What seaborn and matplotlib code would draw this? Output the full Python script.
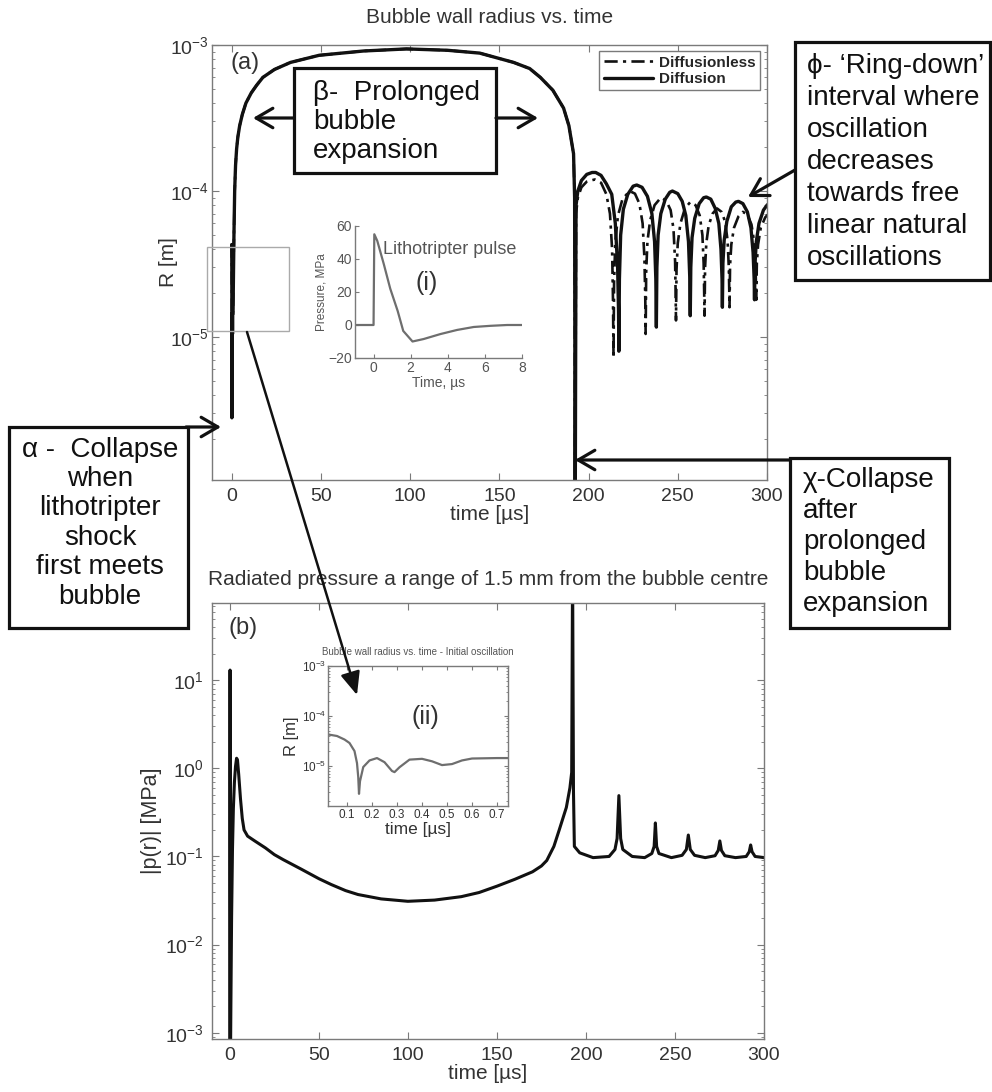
import pandas as pd
import matplotlib
matplotlib.use("Agg")
import matplotlib.pyplot as plt
import seaborn as sns
from matplotlib.patches import Rectangle, FancyArrowPatch

# -----------------------------
# CONFIG
# -----------------------------
sns.set_style("ticks")
plt.rcParams["font.family"] = ["Liberation Sans", "DejaVu Sans"]
plt.rcParams["mathtext.fontset"] = "custom"
plt.rcParams["mathtext.rm"] = "Liberation Sans"
plt.rcParams["mathtext.it"] = "Liberation Sans:italic"
plt.rcParams["mathtext.bf"] = "Liberation Sans:bold"

W, H = 992, 1092
INK = "#111111"
GREY = "#7a7a7a"
TXT = "#333333"

# -----------------------------
# DATA (t in microseconds)
# -----------------------------
# initial oscillation of the bubble wall (inset ii, also the start of panel a)
t_init = [0.024, 0.06, 0.09, 0.11, 0.13, 0.14, 0.145, 0.148, 0.152, 0.165, 0.19,
          0.22, 0.25, 0.28, 0.29, 0.31, 0.35, 0.40, 0.44, 0.48, 0.52, 0.56, 0.60,
          0.70, 0.744]
R_init = [4.3e-5, 4.0e-5, 3.4e-5, 2.9e-5, 2.0e-5, 1.15e-5, 6e-6, 2.8e-6, 5e-6,
          9.6e-6, 1.3e-5, 1.45e-5, 1.2e-5, 8e-6, 7.6e-6, 9.5e-6, 1.35e-5, 1.4e-5,
          1.25e-5, 1.05e-5, 1.1e-5, 1.3e-5, 1.42e-5, 1.45e-5, 1.45e-5]

# prolonged expansion and collapse (same for both models)
t_grow = [0.8, 1.0, 1.3, 1.7, 2.2, 2.8, 3.5, 4.5, 6, 8, 11, 14, 17.5, 24, 33, 49,
          74, 98, 121, 139, 158, 167, 173, 180, 186, 189, 191.6, 192.2, 192.5]
R_grow = [1.5e-5, 2.5e-5, 5e-5, 1.0e-4, 1.5e-4, 1.95e-4, 2.35e-4, 2.8e-4, 3.35e-4,
          4.0e-4, 4.7e-4, 5.3e-4, 6e-4, 6.8e-4, 7.6e-4, 8.5e-4, 9.1e-4, 9.4e-4,
          9.2e-4, 8.8e-4, 7.6e-4, 6.9e-4, 6e-4, 4.9e-4, 3.7e-4, 2.8e-4, 1.8e-4,
          9e-5, 4e-7]

# ring-down, with diffusion
t_ring_diff = [193, 194, 196, 199, 202, 204, 207, 210, 213, 215, 216.3, 216.8, 217,
               217.3, 218, 219.5, 222, 225, 227, 230, 233, 235.5, 237, 237.7, 238,
               238.3, 239, 240.5, 243, 245.5, 247, 250, 252.5, 254.5, 256, 256.7, 257,
               257.3, 258, 259.5, 262, 264.5, 266, 268.5, 271, 273, 274.2, 274.8, 275,
               275.3, 276, 277.5, 280, 282.5, 284, 286.5, 289, 291, 292.2, 292.8, 293,
               293.3, 294, 295.5, 298, 300, 301]
R_ring_diff = [8e-5, 1.0e-4, 1.18e-4, 1.3e-4, 1.34e-4, 1.34e-4, 1.28e-4, 1.12e-4, 9.5e-5,
               6e-5, 3e-5, 1.5e-5, 8e-6,
               2.5e-5, 5e-5, 7.5e-5, 9.5e-5, 1.08e-4, 1.1e-4, 1.06e-4, 9.2e-5, 7e-5,
               4.5e-5, 2.5e-5, 1.17e-5,
               3e-5, 5e-5, 7e-5, 8.8e-5, 9.8e-5, 1.0e-4, 9.6e-5, 8.5e-5, 6.8e-5, 4.5e-5,
               2.6e-5, 1.4e-5,
               3e-5, 4.8e-5, 6.5e-5, 8.2e-5, 9e-5, 9.1e-5, 8.8e-5, 7.6e-5, 6e-5, 4e-5,
               2.5e-5, 1.6e-5,
               3.2e-5, 4.6e-5, 6.2e-5, 7.8e-5, 8.4e-5, 8.5e-5, 8.2e-5, 7.2e-5, 5.6e-5,
               3.8e-5, 2.5e-5, 1.8e-5,
               3.2e-5, 4.5e-5, 6e-5, 7.4e-5, 8e-5, 8.2e-5]

# ring-down, diffusionless
t_ring_nodiff = [193, 194, 196, 199, 203.5, 207, 210, 212, 213.2, 213.7, 214,
                 214.3, 215, 216.5, 219, 223, 226, 228.5, 230.3, 231.3, 231.8, 232,
                 232.3, 233, 234.5, 237, 240.5, 243.5, 246, 247.6, 248.5, 248.8, 249,
                 249.3, 250, 251.5, 254, 257, 260, 262.3, 263.8, 264.5, 264.8, 265,
                 265.3, 266, 267.3, 269.5, 272, 274.5, 276.5, 277.9, 278.6, 278.85, 279,
                 279.3, 280, 281.5, 284, 286.5, 289, 291.3, 292.9, 293.6, 293.85, 294,
                 294.3, 295, 296.5, 299, 301]
R_ring_nodiff = [7e-5, 9e-5, 1.06e-4, 1.16e-4, 1.2e-4, 1.14e-4, 9.5e-5, 7e-5, 4e-5, 1.8e-5, 7.2e-6,
                 2.4e-5, 4.5e-5, 6.8e-5, 8.8e-5, 1.0e-4, 9.6e-5, 8.2e-5, 6e-5, 3.5e-5, 1.8e-5, 1.05e-5,
                 2.8e-5, 4.5e-5, 6.3e-5, 8e-5, 9e-5, 8.6e-5, 7.4e-5, 5.5e-5, 3.3e-5, 2e-5, 1.3e-5,
                 2.9e-5, 4.4e-5, 6e-5, 7.6e-5, 8.4e-5, 8e-5, 6.8e-5, 5e-5, 3.2e-5, 2e-5, 1.4e-5,
                 3e-5, 4.4e-5, 5.8e-5, 7e-5, 7.6e-5, 7.2e-5, 6.2e-5, 4.6e-5, 3e-5, 2.1e-5, 1.6e-5,
                 3.1e-5, 4.3e-5, 5.6e-5, 6.7e-5, 7.2e-5, 6.9e-5, 5.9e-5, 4.4e-5, 2.9e-5, 2.2e-5, 1.8e-5,
                 3.2e-5, 4.3e-5, 5.6e-5, 6.6e-5, 7e-5]

# radiated pressure at 1.5 mm, MPa
t_press = [0, 0.1, 0.148, 0.2, 0.35, 0.6, 1.0, 1.5, 2.0, 2.6, 3.2, 3.8, 4.3, 5.0,
           6.0, 7.0, 8.0, 10, 14, 20, 25, 30, 40, 50, 57, 65, 72, 85, 100, 115, 130,
           140, 150, 160, 170, 175, 178, 182, 185, 189, 191, 192, 192.5,
           193, 193.5, 196.5, 204, 213, 216.3, 217.5, 218.5, 219.5, 220.7, 226, 233,
           237, 238.3, 239, 239.7, 241, 248, 254, 256.4, 257.5, 258.6, 261, 267,
           272.5, 274.3, 275.2, 276.1, 278, 284, 290, 291.7, 292.5, 293.3, 295, 300]
p_press = [3e-4, 0.02, 13, 0.05, 4e-4, 2e-3, 0.02, 0.12, 0.35, 0.7, 1.05, 1.3, 1.25, 0.85,
           0.45, 0.27, 0.2, 0.17, 0.15, 0.125, 0.105, 0.092, 0.072, 0.056, 0.048, 0.041,
           0.037, 0.033, 0.031, 0.032, 0.035, 0.039, 0.046, 0.055, 0.067, 0.078, 0.09,
           0.13, 0.2, 0.36, 0.6, 0.9, 200,
           0.55, 0.13, 0.11, 0.097, 0.1, 0.12, 0.16, 0.49, 0.16, 0.12, 0.1, 0.097,
           0.108, 0.13, 0.24, 0.13, 0.108, 0.097, 0.103, 0.12, 0.175, 0.12, 0.103, 0.097,
           0.102, 0.117, 0.15, 0.117, 0.102, 0.097, 0.1, 0.113, 0.135, 0.113, 0.1, 0.097]

# lithotripter pulse (inset i), MPa
t_pulse = [-1, 0, 0.04, 0.2, 0.55, 0.9, 1.3, 1.6, 2.1, 2.7, 3.6, 4.5, 5.4, 6.3, 7.2, 8]
P_pulse = [0, 0, 55, 51, 37, 22, 8.5, -3.6, -10, -8.5, -5.5, -3, -1.2, -0.5, 0, 0]

time_ticks = [0, 50, 100, 150, 200, 250, 300]
pulse_xticks = [0, 2, 4, 6, 8]
pulse_yticks = [-20, 0, 20, 40, 60]
init_xticks = [0.1, 0.2, 0.3, 0.4, 0.5, 0.6, 0.7]


# -----------------------------
# HELPERS (pixel positions measured from the top-left corner)
# -----------------------------
def px_rect(x0, y0, x1, y1):
    return [x0 / W, 1 - y1 / H, (x1 - x0) / W, (y1 - y0) / H]


def px(x, y):
    return (x / W, 1 - y / H)


def style_axes(ax, size=14, pad=5, all_sides=True):
    for s in ax.spines.values():
        s.set_color(GREY)
        s.set_linewidth(1.0)
    ax.tick_params(which="both", direction="in", top=all_sides, right=all_sides,
                   color=GREY, labelcolor=TXT)
    ax.tick_params(which="major", length=5, labelsize=size, pad=pad)
    ax.tick_params(which="minor", length=2.5)


def box(fig, x0, y0, x1, y1, lw=2.3, ec=INK):
    fig.add_artist(Rectangle(px(x0, y1), (x1 - x0) / W, (y1 - y0) / H,
                             transform=fig.transFigure, facecolor="white",
                             edgecolor=ec, linewidth=lw, zorder=4))


def arrow(fig, xa, ya, xb, yb, style="->,head_length=0.6,head_width=0.35", lw=2.3):
    fig.add_artist(FancyArrowPatch(px(xa, ya), px(xb, yb), transform=fig.transFigure,
                                   arrowstyle=style, mutation_scale=20, color=INK,
                                   linewidth=lw, shrinkA=0, shrinkB=0, zorder=5))


# -----------------------------
# FIGURE
# -----------------------------
fig = plt.figure(figsize=(9.92, 10.92), dpi=100)
ax_a = fig.add_axes(px_rect(212, 45, 767, 480))
ax_b = fig.add_axes(px_rect(212, 603, 764, 1039))
ax_i = fig.add_axes(px_rect(355, 226, 522, 358))
ax_ii = fig.add_axes(px_rect(328, 666, 508, 806))

# (a) bubble radius
nodiff_df = pd.DataFrame({"t": t_init + t_grow + t_ring_nodiff,
                          "R": R_init + R_grow + R_ring_nodiff})
diff_df = pd.DataFrame({"t": t_init + t_grow + t_ring_diff,
                        "R": R_init + R_grow + R_ring_diff})
sns.lineplot(data=nodiff_df, x="t", y="R", ax=ax_a, color=INK, lw=1.9,
             linestyle=(0, (5, 2, 1.2, 2)), estimator=None, sort=False,
             label="Diffusionless")
sns.lineplot(data=diff_df, x="t", y="R", ax=ax_a, color=INK, lw=2.4,
             estimator=None, sort=False, label="Diffusion")
ax_a.set_yscale("log")
ax_a.set_ylim(1.05e-6, 1e-3)
ax_a.set_xlim(-11, 300)
ax_a.set_xticks(time_ticks)
style_axes(ax_a, size=14, pad=6)
ax_a.tick_params(axis="y", pad=2)
ax_a.set_xlabel("time [µs]", fontsize=15, color=TXT, labelpad=0)
ax_a.set_ylabel("R [m]", fontsize=15, color=TXT)
ax_a.yaxis.set_label_coords(-0.062, 0.5)
ax_a.set_title("Bubble wall radius vs. time", fontsize=15, color=TXT, pad=16)
leg = ax_a.legend(loc="upper right", bbox_to_anchor=(0.9874, 0.9862), borderaxespad=0,
                  prop={"size": 11, "weight": "bold"}, handlelength=3.2,
                  handletextpad=0.4, borderpad=0.3, labelspacing=0.15,
                  frameon=True, fancybox=False, framealpha=1, edgecolor=GREY)
leg.get_frame().set_linewidth(1.0)

# (b) radiated pressure
press_df = pd.DataFrame({"t": t_press, "p": p_press})
sns.lineplot(data=press_df, x="t", y="p", ax=ax_b, color=INK, lw=2.2,
             estimator=None, sort=False)
ax_b.set_yscale("log")
ax_b.set_ylim(8.5e-4, 75)
ax_b.set_xlim(-10, 300)
ax_b.set_xticks(time_ticks)
style_axes(ax_b, size=14, pad=6)
ax_b.set_xlabel("time [µs]", fontsize=15, color=TXT, labelpad=0)
ax_b.set_ylabel("|p(r)| [MPa]", fontsize=15.5, color=TXT)
ax_b.yaxis.set_label_coords(-0.09, 0.5)
ax_b.set_title("Radiated pressure a range of 1.5 mm from the bubble centre",
               fontsize=15, color=TXT, pad=13)

# inset (i): lithotripter pulse
pulse_df = pd.DataFrame({"t": t_pulse, "P": P_pulse})
sns.lineplot(data=pulse_df, x="t", y="P", ax=ax_i, color="#6e6e6e", lw=1.6,
             estimator=None, sort=False)
ax_i.set_xlim(-1, 8)
ax_i.set_ylim(-20, 60)
ax_i.set_xticks(pulse_xticks)
ax_i.set_yticks(pulse_yticks)
style_axes(ax_i, size=10, pad=2, all_sides=False)
ax_i.tick_params(labelcolor="#555555", length=3)
ax_i.spines["top"].set_visible(False)
ax_i.spines["right"].set_visible(False)
ax_i.set_xlabel("Time, µs", fontsize=10, color="#555555", labelpad=1)
ax_i.set_ylabel("Pressure, MPa", fontsize=8.5, color="#555555", labelpad=1)
ax_i.patch.set_alpha(0)

# inset (ii): initial oscillation
init_df = pd.DataFrame({"t": t_init, "R": R_init})
sns.lineplot(data=init_df, x="t", y="R", ax=ax_ii, color="#6e6e6e", lw=1.6,
             estimator=None, sort=False)
ax_ii.set_yscale("log")
ax_ii.set_ylim(1.6e-6, 1e-3)
ax_ii.set_xlim(0.024, 0.744)
ax_ii.set_xticks(init_xticks)
ax_ii.set_xticklabels([f"{v:g}" for v in init_xticks])
style_axes(ax_ii, size=8.5, pad=2)
ax_ii.tick_params(which="major", length=3)
ax_ii.tick_params(which="minor", length=1.5)
ax_ii.tick_params(axis="y", pad=1)
ax_ii.set_xlabel("time [µs]", fontsize=12.5, color=TXT, labelpad=1)
ax_ii.set_ylabel("R [m]", fontsize=12, color=TXT, labelpad=2)

# -----------------------------
# TEXT AND ANNOTATIONS
# -----------------------------
fig.text(*px(245, 63), "(a)", fontsize=17, color=TXT, ha="center", va="center")
fig.text(*px(243, 628), "(b)", fontsize=17, color=TXT, ha="center", va="center")
fig.text(*px(450, 250), "Lithotripter pulse", fontsize=13, color="#555555",
         ha="center", va="center")
fig.text(*px(427, 283), "(i)", fontsize=18, color=TXT, ha="center", va="center")
fig.text(*px(425, 717), "(ii)", fontsize=18, color=TXT, ha="center", va="center")
fig.text(*px(418, 652), "Bubble wall radius vs. time - Initial oscillation",
         fontsize=7, color="#555555", ha="center", va="center")

# zoom marker and arrow to inset (ii)
fig.add_artist(Rectangle(px(207, 331), 82 / W, 84 / H, transform=fig.transFigure,
                         facecolor="none", edgecolor="#aaaaaa", linewidth=1.0, zorder=3))
arrow(fig, 247, 332, 357, 695, style="-|>,head_length=0.7,head_width=0.3", lw=1.8)

# beta box
box(fig, 294, 68, 496, 173)
fig.text(*px(313, 122), "β-  Prolonged\nbubble\nexpansion", fontsize=20,
         ha="left", va="center", linespacing=1.17, color=INK, zorder=6)
arrow(fig, 294, 118, 253, 118)
arrow(fig, 496, 118, 538, 118)

# phi box
box(fig, 795, 42, 990, 280)
fig.text(*px(807, 162), "ϕ- ‘Ring-down’\ninterval where\noscillation\ndecreases\n"
         "towards free\nlinear natural\noscillations", fontsize=20, ha="left",
         va="center", linespacing=1.3, color=INK, zorder=6)
arrow(fig, 795, 170, 748, 197)

# alpha box
box(fig, 9, 427, 188, 628)
fig.text(*px(100, 523), "α -  Collapse\nwhen\nlithotripter\nshock\nfirst meets\nbubble",
         fontsize=20, ha="center", va="center", multialignment="center",
         linespacing=1.17, color=INK, zorder=6)
arrow(fig, 186, 427, 221, 427)

# chi box
box(fig, 790, 458, 949, 628)
fig.text(*px(803, 542), "χ-Collapse\nafter\nprolonged\nbubble\nexpansion",
         fontsize=20, ha="left", va="center", linespacing=1.26, color=INK, zorder=6)
arrow(fig, 790, 460, 575, 460)

fig.savefig("out.png", dpi=100)
